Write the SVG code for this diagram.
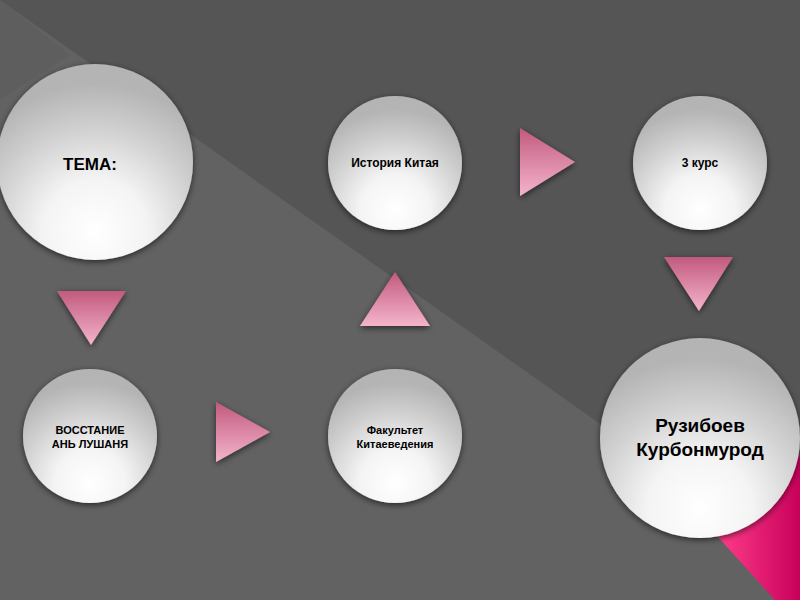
<svg xmlns="http://www.w3.org/2000/svg" width="800" height="600" viewBox="0 0 800 600">
<defs>
<radialGradient id="cg" cx="0.5" cy="0.85" r="0.75">
<stop offset="0" stop-color="#ffffff"/><stop offset="0.35" stop-color="#f4f4f4"/><stop offset="0.7" stop-color="#d0d0d0"/><stop offset="1" stop-color="#b4b4b4"/>
</radialGradient>
<linearGradient id="tg" x1="0" y1="0" x2="0" y2="1">
<stop offset="0" stop-color="#c25a7e"/><stop offset="1" stop-color="#f4b4cc"/>
</linearGradient>
<linearGradient id="pk" x1="0" y1="0" x2="1" y2="0">
<stop offset="0" stop-color="#ff3d8a"/><stop offset="1" stop-color="#c8005a"/>
</linearGradient>
<filter id="sh" x="-20%" y="-20%" width="140%" height="140%"><feDropShadow dx="0" dy="2" stdDeviation="3" flood-color="#000" flood-opacity="0.6"/></filter>
<style>
.c{fill:url(#cg);filter:url(#sh)}
.t{fill:url(#tg);filter:url(#sh)}
text{font-family:"Liberation Sans",Arial,sans-serif;font-weight:bold;fill:#000;text-anchor:middle}
</style>
</defs>
<rect width="800" height="600" fill="#555555"/>
<polygon points="0,0 800,565 800,600 0,600" fill="#626262"/>
<polygon points="0,0 70,55 0,100" fill="#5e5e5e"/>
<polygon points="718,537 800,455 800,600 775,600" fill="url(#pk)"/>
<g id="connectors">
<polygon class="t" points="57,291 126,291 91,345"/>
<polygon class="t" points="216,402 216,462 270,432"/>
<polygon class="t" points="395,272 360,326 430,326"/>
<polygon class="t" points="520,128 520,196 575,162"/>
<polygon class="t" points="664,257 733,257 699,311"/>
</g>
<g id="n1"><circle class="c" cx="95" cy="162" r="98"/><text x="90" y="170" font-size="17">ТЕМА:</text></g>
<g id="n2"><circle class="c" cx="395" cy="163" r="67"/><text x="395" y="167" font-size="12">История Китая</text></g>
<g id="n3"><circle class="c" cx="700" cy="163" r="67"/><text x="700" y="167" font-size="12">3 курс</text></g>
<g id="n4"><circle class="c" cx="90" cy="436" r="67"/><text x="90" y="434" font-size="11">ВОССТАНИЕ</text><text x="90" y="448" font-size="11">АНЬ ЛУШАНЯ</text></g>
<g id="n5"><circle class="c" cx="395" cy="436" r="67"/><text x="395" y="434" font-size="11">Факультет</text><text x="395" y="448" font-size="11">Китаеведения</text></g>
<g id="n6"><circle class="c" cx="700" cy="438" r="100"/><text x="700" y="432" font-size="19">Рузибоев</text><text x="700" y="456" font-size="19">Курбонмурод</text></g>
</svg>
